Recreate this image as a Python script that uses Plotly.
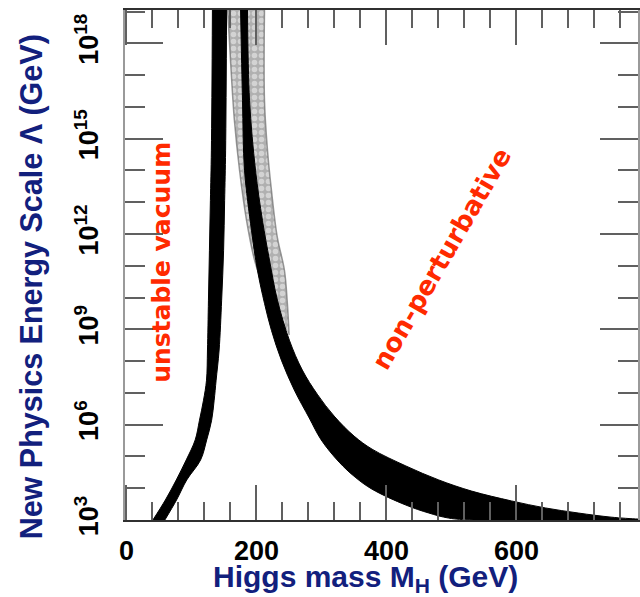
import plotly.graph_objects as go

# ---------------- data ----------------
# Vacuum-stability band: for each log10(Lambda), left and right Higgs-mass edges (GeV)
vac_logL    = [3.0, 3.63, 4.26, 4.89, 5.52, 6.14, 6.77, 7.40, 8.35, 9.92, 11.49, 13.06, 14.64, 19.05]
vac_left_M  = [40.6, 59.8, 76.6, 91.9, 105.7, 112.3, 118.5, 123.1, 124.6, 126.1, 127.6, 129.1, 130.6, 132.2]
vac_right_M = [59.0, 77.0, 92.7, 114.0, 123.4, 131.0, 134.9, 137.9, 142.5, 146.4, 149.4, 151.0, 152.5, 154.0]

# Triviality band (black): upper boundary and lower boundary as (M, log10 Lambda)
triv_upper_M    = [186.2, 189.3, 198.5, 209.2, 220.0, 232.2, 250.6, 270.5, 293.5, 319.5, 350.2,
                   377.8, 429.9, 480.5, 531.0, 592.3, 644.4, 695.0, 745.6, 787.0, 802.0]
triv_upper_logL = [19.05, 16.21, 14.01, 12.43, 11.18, 9.92, 8.66, 7.72, 6.96, 6.27, 5.64,
                   5.23, 4.70, 4.26, 3.91, 3.60, 3.38, 3.22, 3.09, 3.03, 3.02]
triv_lower_M    = [175.5, 178.5, 181.6, 192.3, 201.5, 212.3, 223.0, 238.3, 258.2, 281.2, 299.6,
                   327.2, 351.7, 377.8, 429.9, 465.1, 495.8, 534.1, 802.0]
triv_lower_logL = [19.05, 16.21, 14.01, 12.12, 10.86, 9.82, 8.97, 8.03, 7.09, 6.21, 5.52,
                   4.82, 4.35, 3.97, 3.47, 3.22, 3.06, 3.0, 3.0]

# Hatched (uncertainty) region at large Lambda
hatch_left_M     = [155.6, 160.0, 166.0, 174.0, 184.7, 197.0, 212.3]
hatch_left_logL  = [19.05, 17.47, 15.58, 14.0, 12.43, 11.18, 10.23]
hatch_right_M    = [212.3, 212.3, 216.9, 223.0, 232.0, 243.0, 247.5, 250.2]
hatch_right_logL = [19.05, 16.2, 14.64, 13.38, 11.9, 10.86, 9.82, 8.82]

# axis ticks
x_major = [0, 200, 400, 600]
y_major_exp = [3, 6, 9, 12, 15, 18]
y_minor_exp = list(range(3, 20))

# ---------------- figure ----------------
fig = go.Figure()


def band(xa, ya, xb, yb, fill_kw, line_color, lw=1, smooth=1.0):
    fig.add_trace(go.Scatter(x=xa, y=[10 ** v for v in ya], mode="lines",
                             line=dict(color=line_color, width=lw, shape="spline", smoothing=smooth),
                             hoverinfo="skip", showlegend=False))
    fig.add_trace(go.Scatter(x=xb, y=[10 ** v for v in yb], mode="lines", fill="tonexty",
                             line=dict(color=line_color, width=lw, shape="spline", smoothing=smooth),
                             hoverinfo="skip", showlegend=False, **fill_kw))


band(hatch_left_M, hatch_left_logL, hatch_right_M, hatch_right_logL,
     dict(fillcolor="#c4c4c4",
          fillpattern=dict(shape=".", bgcolor="#b0b0b0", fgcolor="#f6f6f6", size=7, solidity=0.5)),
     "rgba(110,110,110,0.7)", lw=1.5)
band(vac_left_M, vac_logL, vac_right_M, vac_logL, dict(fillcolor="black"), "black")
band(triv_upper_M, triv_upper_logL, triv_lower_M, triv_lower_logL, dict(fillcolor="black"), "black")

tickfont = dict(family="Liberation Sans, Arial, sans-serif", size=27, color="black")

fig.update_xaxes(
    range=[-2.3, 787], showgrid=False, zeroline=False,
    showline=True, linecolor="#303030", linewidth=2, mirror="ticks",
    ticks="inside", ticklen=35, tickwidth=2, tickcolor="#606060",
    tickvals=x_major, ticktext=[f"<b>{v}</b>" for v in x_major],
    tickfont=tickfont, ticklabelstandoff=6,
    minor=dict(dtick=40, tick0=0, ticks="inside", ticklen=18, tickwidth=2, tickcolor="#606060"),
)
fig.update_yaxes(
    type="log", range=[3, 19.05], showgrid=False, zeroline=False,
    showline=True, linecolor="#9a9a9a", linewidth=2, mirror="ticks",
    ticks="inside", ticklen=38, tickwidth=2, tickcolor="#606060",
    tickvals=[10 ** e for e in y_major_exp],
    ticktext=[f"<b>10<sup>{e}</sup></b>" for e in y_major_exp],
    tickangle=-90, tickfont=tickfont, ticklabelstandoff=14,
    minor=dict(tickvals=[10 ** e for e in y_minor_exp], ticks="inside", ticklen=20,
               tickwidth=2, tickcolor="#606060"),
)

navy = "#12207d"
red = "#ff2a00"
W, H0 = 515.0, 510.0  # plot area size in px


def px(xp, yp):
    return (xp - 125) / W, (520 - yp) / H0


ax_x, ax_y = px(366, 578)
ay_x, ay_y = px(31, 287)
uv_x, uv_y = px(161.5, 262.5)
np_x, np_y = px(442.5, 258.5)

fig.update_layout(
    width=640, height=597,
    margin=dict(l=125, r=0, t=10, b=77),
    paper_bgcolor="white", plot_bgcolor="white",
    annotations=[
        dict(text="<b>Higgs mass M<sub>H</sub> (GeV)</b>", xref="paper", yref="paper",
             x=ax_x, y=ax_y, xanchor="center", yanchor="middle", showarrow=False,
             font=dict(family="Liberation Sans, Arial, sans-serif", size=30, color=navy)),
        dict(text="<b>New Physics Energy Scale Λ (GeV)</b>", xref="paper", yref="paper",
             x=ay_x, y=ay_y, xanchor="center", yanchor="middle", showarrow=False, textangle=-90,
             font=dict(family="Liberation Sans, Arial, sans-serif", size=30.5, color=navy)),
        dict(text="<b>unstable vacuum</b>", xref="paper", yref="paper",
             x=uv_x, y=uv_y, xanchor="center", yanchor="middle", showarrow=False, textangle=-90,
             font=dict(family="DejaVu Sans, sans-serif", size=25, color=red)),
        dict(text="<b>non-perturbative</b>", xref="paper", yref="paper",
             x=np_x, y=np_y, xanchor="center", yanchor="middle", showarrow=False, textangle=-60,
             font=dict(family="DejaVu Sans, sans-serif", size=26, color=red)),
    ],
)

fig.write_html("out.html")
